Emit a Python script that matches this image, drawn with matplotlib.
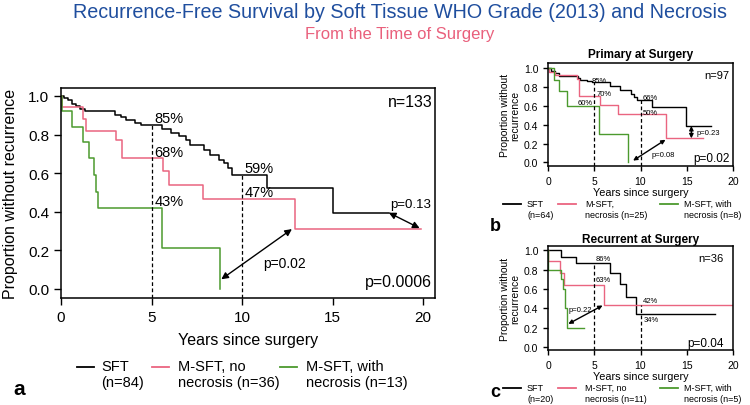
import numpy as np
import matplotlib.pyplot as plt
from matplotlib.lines import Line2D

plt.rcParams['font.family'] = ['Liberation Sans', 'DejaVu Sans']

BLACK = 'black'
PINK = '#ea6580'
GREEN = '#4c9a2e'
COLORS = [BLACK, PINK, GREEN]

# panel a: all patients (years, proportion without recurrence)
a_sft_t = [0, 0.15, 0.4, 0.6, 0.85, 1.05, 1.35, 3.0, 3.3, 3.6, 4.1, 4.4, 5.6, 6.1,
           6.5, 6.9, 7.1, 7.9, 8.2, 8.7, 9.0, 9.2, 9.45, 11.4, 15.0, 18.1]
a_sft_s = [1.0, 0.99, 0.98, 0.96, 0.95, 0.93, 0.92, 0.90, 0.89, 0.875, 0.86, 0.85, 0.83, 0.81,
           0.79, 0.77, 0.745, 0.72, 0.695, 0.67, 0.65, 0.625, 0.59, 0.525, 0.395, 0.395]
a_nonec_t = [0, 0.05, 1.2, 1.4, 3.05, 3.35, 5.65, 5.95, 7.85, 12.9, 19.9]
a_nonec_s = [1.0, 0.94, 0.88, 0.82, 0.77, 0.68, 0.61, 0.54, 0.465, 0.31, 0.31]
a_nec_t = [0, 0.07, 0.6, 1.2, 1.55, 1.8, 1.95, 2.05, 5.6, 8.8]
a_nec_s = [1.0, 0.92, 0.84, 0.76, 0.68, 0.59, 0.5, 0.42, 0.21, 0.0]
a_labels = ['SFT\n(n=84)', 'M-SFT, no\nnecrosis (n=36)', 'M-SFT, with\nnecrosis (n=13)']
a_pct5 = ['85%', '68%', '43%']
a_pct10 = ['59%', '47%']

# panel b: primary at surgery
b_sft_t = [0, 0.3, 0.8, 1.2, 3.2, 3.5, 4.2, 4.8, 6.7, 7.8, 9.0, 9.3, 9.6, 11.2, 14.9, 17.6]
b_sft_s = [1.0, 0.97, 0.94, 0.91, 0.89, 0.87, 0.86, 0.845, 0.81, 0.76, 0.72, 0.69, 0.66, 0.585, 0.385, 0.385]
b_nonec_t = [0, 0.1, 0.8, 3.1, 3.3, 5.6, 7.6, 12.8, 16.8]
b_nonec_s = [1.0, 0.96, 0.92, 0.88, 0.70, 0.61, 0.51, 0.255, 0.255]
b_nec_t = [0, 0.6, 1.15, 2.0, 5.5, 8.7]
b_nec_s = [1.0, 0.875, 0.75, 0.6, 0.3, 0.0]
b_labels = ['SFT\n(n=64)', 'M-SFT,\nnecrosis (n=25)', 'M-SFT, with\nnecrosis (n=8)']

# panel c: recurrent at surgery
c_sft_t = [0, 1.4, 3.0, 6.7, 7.8, 8.4, 9.5, 18.0]
c_sft_s = [1.0, 0.93, 0.865, 0.77, 0.655, 0.515, 0.34, 0.34]
c_nonec_t = [0, 0.02, 1.33, 1.7, 6.07, 20]
c_nonec_s = [1.0, 0.89, 0.77, 0.64, 0.43, 0.43]
c_nec_t = [0, 0.05, 1.4, 1.6, 1.8, 2.1, 3.85]
c_nec_s = [1.0, 0.8, 0.7, 0.6, 0.4, 0.2, 0.2]
c_labels = ['SFT\n(n=20)', 'M-SFT, no\nnecrosis (n=11)', 'M-SFT, with\nnecrosis (n=5)']

W, H = 750, 406
fig = plt.figure(figsize=(W / 100, H / 100), dpi=100)


def box(l, t, r, b):
    return [l / W, 1 - b / H, (r - l) / W, (b - t) / H]


def surv_at(t, s, x):
    i = np.searchsorted(t, x, side='right') - 1
    return s[i]


def km_panel(ax, curves, xlim, ylim, lw, fs):
    for (t, s), col in zip(curves, COLORS):
        ax.step(t, s, where='post', color=col, lw=lw)
    ax.set_xlim(*xlim)
    ax.set_ylim(*ylim)
    ax.set_xticks([0, 5, 10, 15, 20])
    ax.set_yticks(np.arange(0, 1.01, 0.2))
    ax.yaxis.set_major_formatter(plt.FormatStrFormatter('%.1f'))
    ax.tick_params(labelsize=fs, length=fs * 0.45, width=1)
    for sp in ax.spines.values():
        sp.set_linewidth(1.1)
    for x in (5, 10):
        top = max(surv_at(t, s, x) for t, s in curves if t[-1] >= x)
        ax.plot([x, x], [ylim[0], top], color='black', lw=0.9, ls=(0, (3, 2)))


def legend_row(labels, x_handle, x_text, y, fs, hl):
    for lab, col, xh, xt in zip(labels, COLORS, x_handle, x_text):
        fig.add_artist(Line2D([xh / W, (xh + hl) / W], [1 - y / H, 1 - y / H],
                              color=col, lw=1.3, transform=fig.transFigure))
        fig.text(xt / W, 1 - (y - fs * 0.75) / H, lab, fontsize=fs, va='top',
                 ha='left', linespacing=1.2)


def dbl_arrow(ax, p0, p1, ms):
    ax.annotate('', xy=p1, xytext=p0,
                arrowprops=dict(arrowstyle='<|-|>', color='black', lw=1,
                                mutation_scale=ms, shrinkA=0, shrinkB=0))


# titles
fig.text(400 / W, 1 - 12 / H, 'Recurrence-Free Survival by Soft Tissue WHO Grade (2013) and Necrosis',
         ha='center', va='center', fontsize=14.2, color='#1f4e9e')
fig.text(400 / W, 1 - 34 / H, 'From the Time of Surgery', ha='center', va='center',
         fontsize=12, color='#e9607c')

# panel a
ax = fig.add_axes(box(61, 89, 435, 299))
km_panel(ax, [(a_sft_t, a_sft_s), (a_nonec_t, a_nonec_s), (a_nec_t, a_nec_s)],
         (0, 20.65), (-0.047, 1.041), 1.1, 11)
ax.set_ylabel('Proportion without recurrence', fontsize=11.5, labelpad=7)
ax.set_xlabel('Years since surgery', fontsize=11.5, labelpad=6)
for lab, y in zip(a_pct5, [0.885, 0.71, 0.455]):
    ax.text(5.15, y, lab, fontsize=10.5, va='center')
for lab, y in zip(a_pct10, [0.625, 0.50]):
    ax.text(10.15, y, lab, fontsize=10.5, va='center')
dbl_arrow(ax, (8.85, 0.05), (12.75, 0.31), 10)
ax.text(11.15, 0.135, 'p=0.02', fontsize=10, va='center')
dbl_arrow(ax, (18.1, 0.395), (19.8, 0.315), 10)
ax.text(18.2, 0.44, 'p=0.13', fontsize=9.5, va='center')
ax.text(20.5, 0.97, 'n=133', fontsize=11.5, ha='right', va='center')
ax.text(20.5, 0.04, 'p=0.0006', fontsize=11.5, ha='right', va='center')
legend_row(a_labels, [77, 152, 280], [101, 178, 306], 368, 10.5, 17)
fig.text(13 / W, 1 - 390 / H, 'a', fontsize=15, fontweight='bold', va='center')

# panel b
ax = fig.add_axes(box(548, 64, 733, 167))
km_panel(ax, [(b_sft_t, b_sft_s), (b_nonec_t, b_nonec_s), (b_nec_t, b_nec_s)],
         (0, 20), (-0.037, 1.05), 1.0, 7.5)
ax.set_title('Primary at Surgery', fontsize=8.5, fontweight='bold', pad=4)
ax.set_ylabel('Proportion without\nrecurrence', fontsize=7.5, labelpad=3, linespacing=1.0)
ax.set_xlabel('Years since surgery', fontsize=7.8, labelpad=1)
ax.text(4.7, 0.87, '85%', fontsize=5.5, va='center')
ax.text(5.2, 0.73, '70%', fontsize=5.5, va='center')
ax.text(3.2, 0.63, '60%', fontsize=5.5, va='center')
ax.text(10.2, 0.685, '66%', fontsize=5.5, va='center')
ax.text(10.2, 0.53, '50%', fontsize=5.5, va='center')
dbl_arrow(ax, (15.5, 0.385), (15.5, 0.255), 6)
ax.text(16.1, 0.315, 'p=0.23', fontsize=5.5, va='center')
dbl_arrow(ax, (9.2, 0.02), (12.7, 0.24), 6)
ax.text(11.2, 0.08, 'p=0.08', fontsize=5.5, va='center')
ax.text(19.6, 0.92, 'n=97', fontsize=8, ha='right', va='center')
ax.text(19.6, 0.05, 'p=0.02', fontsize=8.5, ha='right', va='center')
legend_row(b_labels, [503, 558, 660], [527, 585, 684], 205, 6.5, 18)
fig.text(490 / W, 1 - 227 / H, 'b', fontsize=13, fontweight='bold', va='center')

# panel c
ax = fig.add_axes(box(548, 247, 733, 351))
km_panel(ax, [(c_sft_t, c_sft_s), (c_nonec_t, c_nonec_s), (c_nec_t, c_nec_s)],
         (0, 20), (-0.03, 1.045), 1.0, 7.5)
ax.set_title('Recurrent at Surgery', fontsize=8.5, fontweight='bold', pad=3)
ax.set_ylabel('Proportion without\nrecurrence', fontsize=7.5, labelpad=3, linespacing=1.0)
ax.set_xlabel('Years since surgery', fontsize=7.8, labelpad=1)
ax.text(5.2, 0.92, '86%', fontsize=5.5, va='center')
ax.text(5.2, 0.70, '63%', fontsize=5.5, va='center')
ax.text(10.3, 0.48, '42%', fontsize=5.5, va='center')
ax.text(10.3, 0.29, '34%', fontsize=5.5, va='center')
dbl_arrow(ax, (2.2, 0.24), (5.9, 0.43), 6)
ax.text(2.2, 0.39, 'p=0.22', fontsize=5.5, va='center')
ax.text(19.0, 0.92, 'n=36', fontsize=8, ha='right', va='center')
ax.text(19.0, 0.04, 'p=0.04', fontsize=8.5, ha='right', va='center')
legend_row(c_labels, [503, 558, 660], [527, 585, 684], 389, 6.5, 18)
fig.text(490 / W, 1 - 393 / H, 'c', fontsize=13, fontweight='bold', va='center')

fig.savefig('out.png', dpi=100)
